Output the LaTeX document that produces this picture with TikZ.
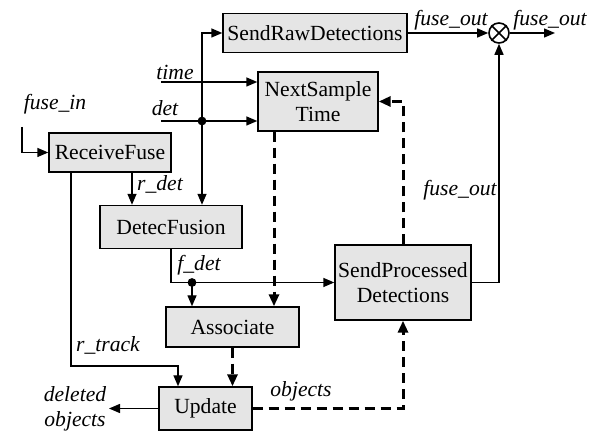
\documentclass[tikz,border=0pt]{standalone}
\usepackage{fontspec}
\setmainfont{Liberation Serif}
\usetikzlibrary{arrows.meta,positioning}

\begin{document}
\begin{tikzpicture}[
  x=0.5pt, y=-0.5pt,
  every node/.style = {font=\rmfamily\fontsize{10.8}{12.5}\selectfont},
  blk/.style  = {draw, fill=gray!20, line width=0.7pt, inner sep=0pt, align=center},
  sig/.style  = {font=\rmfamily\fontsize{10.8}{12.5}\selectfont\itshape, inner sep=0pt, align=center},
  arr/.style  = {-{Triangle[length=5.5pt,width=4.5pt]}, line width=0.7pt},
  darr/.style = {-{Triangle[length=6pt,width=5pt]}, line width=1.5pt, dash pattern=on 5pt off 3pt},
]
\useasboundingbox (0,0) rectangle (600,442);

%% ---------- blocks ----------
\node[blk, minimum width=92pt, minimum height=19.5pt] (raw) at (315,33) {SendRawDetections};
\node[blk, minimum width=60pt, minimum height=29.5pt] (nst) at (318,101.5) {NextSample\\Time};
\node[blk, minimum width=61pt, minimum height=19.5pt] (rf)  at (110,152.5) {ReceiveFuse};
\node[blk, minimum width=71pt, minimum height=21.5pt] (df)  at (171,227) {DetecFusion};
\node[blk, minimum width=66.5pt, minimum height=20pt] (as)  at (232.5,327) {Associate};
\node[blk, minimum width=46.5pt, minimum height=21.5pt] (up) at (205.5,408.5) {Update};
\node[blk, minimum width=68pt, minimum height=37.5pt] (spd) at (403,282.5) {SendProcessed\\Detections};
\node[draw, circle, line width=0.8pt, minimum size=10pt, inner sep=0pt] (sum) at (499,33) {};
\draw[line width=0.8pt] (sum.north west) -- (sum.south east);
\draw[line width=0.8pt] (sum.north east) -- (sum.south west);

%% ---------- helper points ----------
\coordinate (tin)  at (161,82);
\coordinate (din)  at (161,121);
\coordinate (ddot) at (202,121);
\coordinate (fin)  at (22,127);
\coordinate (xrd)  at (132,0);
\coordinate (xrt)  at (71,0);
\coordinate (rtk)  at (178,366);
\coordinate (xfd)  at (171,0);
\coordinate (fdot) at (192,282.5);
\coordinate (xns)  at (274,0);
\coordinate (del)  at (109,408.5);
\coordinate (sout) at (555,33);

%% ---------- solid signals ----------
\draw[arr] (tin) -- (tin -| nst.west);
\draw[arr] (din) -- (din -| nst.west);
\draw[arr] (ddot) |- (raw.west);
\draw[arr] (ddot) -- (ddot |- df.north);
\fill (ddot) circle (2.2pt);
\draw[arr] (fin) |- (rf.west);
\draw[arr] (rf.south -| xrd) -- (df.north -| xrd);
\draw[arr] (rf.south -| xrt) |- (rtk) -- (rtk |- up.north);
\draw[arr] (df.south -| xfd) |- (spd.west);
\draw[arr] (fdot) -- (fdot |- as.north);
\fill (fdot) circle (2.2pt);
\draw[arr] (up.west) -- (del);
\draw[arr] (raw.east) -- (sum.west);
\draw[arr] (sum.east) -- (sout);
\draw[arr] (spd.east) -| (sum.south);

%% ---------- dashed signals ----------
\draw[darr] (nst.south -| xns) -- (as.north -| xns);
\draw[darr] (as.south) -- (as.south |- up.north);
\draw[darr] (up.east) -| (spd.south);
\draw[darr] (spd.north) |- (nst.east);

%% ---------- labels ----------
\node[sig] (ltime) at (175,72)  {time};
\node[sig] (ldet)  at (165,108) {det};
\node[sig] (lfin)  at (55,104)  {fuse\_in};
\node[sig] (lrdet) at (160,184) {r\_det};
\node[sig] (lfdet) at (199,265) {f\_det};
\node[sig] (lrtrk) at (108,345) {r\_track};
\node[sig] (lobj)  at (301,391) {objects};
\node[sig] (ldel)  at (75,409)  {deleted\\objects};
\node[sig] (lfo1)  at (451,20)  {fuse\_out};
\node[sig] (lfo2)  at (550,20)  {fuse\_out};
\node[sig] (lfo3)  at (460,190) {fuse\_out};

\end{tikzpicture}
\end{document}
